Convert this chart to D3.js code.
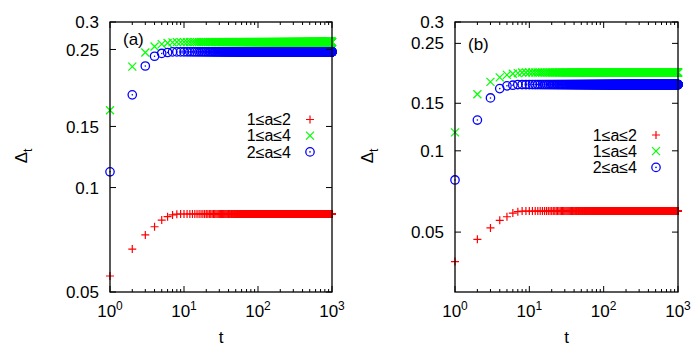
<!DOCTYPE html>
<meta charset="utf-8">
<style>
    body { margin: 0; background: #fff; }
    svg { font-family: "Liberation Sans", Arial, sans-serif; }
    .frame { fill: none; stroke: #000; stroke-width: 1.3; }
    .tick { stroke: #000; stroke-width: 1; }
</style>
<svg width="699" height="350"></svg>
<script src="https://d3js.org/d3.v7.min.js"></script>
<script>

    // values: the first steps, then the flat level up to t = 1000
    var tMax = 1000;

    var redA   = [0.0556, 0.0665, 0.0730, 0.0771, 0.0806, 0.0824, 0.0834, 0.0838];
    var greenA = [0.167, 0.223, 0.245, 0.255, 0.259, 0.261, 0.262];
    var blueA  = [0.111, 0.185, 0.224, 0.239, 0.2435, 0.245, 0.246];
    var plateauA = { red: 0.0839, green: 0.2625, blue: 0.246 };

    var redB   = [0.0389, 0.0470, 0.0518, 0.0553, 0.0570, 0.0588, 0.0595];
    var greenB = [0.117, 0.162, 0.180, 0.187, 0.191, 0.193, 0.194];
    var blueB  = [0.078, 0.130, 0.157, 0.170, 0.174, 0.175, 0.176];
    var plateauB = { red: 0.0598, green: 0.195, blue: 0.176 };

    var yTicks = [0.05, 0.1, 0.15, 0.25, 0.3];
    var xTicks = [1, 10, 100, 1000];
    var legendNames = ["1\u2264a\u22642", "1\u2264a\u22644", "2\u2264a\u22644"];
    var colors = ["#ff0000", "#00ff00", "#0000ff"];

    function series(early, flat) {
        var out = [];
        for (var t = 1; t <= tMax; t++) {
            out.push({ t: t, v: t <= early.length ? early[t - 1] : flat });
        }
        return out;
    }

    var svg = d3.select("svg");

    function marker(g, kind, color) {
        if (kind == 0) {
            g.append("path").attr("d", "M-4,0H4M0,-4V4")
                .attr("stroke", color).attr("stroke-width", 1.2).attr("fill", "none");
        } else if (kind == 1) {
            g.append("path").attr("d", "M-4,-4L4,4M-4,4L4,-4")
                .attr("stroke", color).attr("stroke-width", 1.2).attr("fill", "none");
        } else {
            g.append("circle").attr("r", 4.2)
                .attr("stroke", color).attr("stroke-width", 1.3).attr("fill", "none");
            g.append("circle").attr("r", 0.8).attr("fill", color);
        }
    }

    function drawPanel(p) {
        var x = d3.scaleLog().domain([1, tMax]).range([p.left, p.right]);
        var y = d3.scaleLog().domain(p.yDomain).range([p.bottom, p.top]);

        var g = svg.append("g");

        // data, red first so blue ends on top
        p.data.forEach(function(d, k) {
            g.append("g").selectAll("g")
                .data(d)
                .enter().append("g")
                .attr("transform", function(e) { return "translate(" + x(e.t) + "," + y(e.v) + ")"; })
                .each(function() { marker(d3.select(this), k, colors[k]); });
        });

        // frame
        g.append("rect").attr("class", "frame")
            .attr("x", p.left).attr("y", p.top)
            .attr("width", p.right - p.left).attr("height", p.bottom - p.top);

        // x ticks, major and minor, bottom and top
        var minor = [];
        [1, 10, 100].forEach(function(dec) {
            for (var m = 2; m <= 9; m++) minor.push(dec * m);
        });
        xTicks.forEach(function(t) {
            g.append("line").attr("class", "tick")
                .attr("x1", x(t)).attr("x2", x(t)).attr("y1", p.bottom).attr("y2", p.bottom - 6);
            g.append("line").attr("class", "tick")
                .attr("x1", x(t)).attr("x2", x(t)).attr("y1", p.top).attr("y2", p.top + 6);
            var lab = g.append("text")
                .attr("x", x(t)).attr("y", 317)
                .attr("text-anchor", "middle")
                .attr("font-size", 17);
            lab.append("tspan").text("10");
            lab.append("tspan").attr("dy", -7).attr("font-size", 12).text(Math.round(Math.log10(t)));
        });
        minor.forEach(function(t) {
            g.append("line").attr("class", "tick")
                .attr("x1", x(t)).attr("x2", x(t)).attr("y1", p.bottom).attr("y2", p.bottom - 3);
            g.append("line").attr("class", "tick")
                .attr("x1", x(t)).attr("x2", x(t)).attr("y1", p.top).attr("y2", p.top + 3);
        });

        // y ticks, left and right
        yTicks.forEach(function(v) {
            g.append("line").attr("class", "tick")
                .attr("x1", p.left).attr("x2", p.left + 6).attr("y1", y(v)).attr("y2", y(v));
            g.append("line").attr("class", "tick")
                .attr("x1", p.right).attr("x2", p.right - 6).attr("y1", y(v)).attr("y2", y(v));
            g.append("text")
                .attr("x", p.left - 11).attr("y", y(v)).attr("dy", "0.36em")
                .attr("text-anchor", "end").attr("font-size", 17)
                .text(v);
        });

        // axis titles
        g.append("text")
            .attr("x", (p.left + p.right) / 2).attr("y", 343)
            .attr("text-anchor", "middle").attr("font-size", 17)
            .text("t");
        var yl = g.append("text")
            .attr("transform", "translate(" + p.yLabelX + ",156) rotate(-90)")
            .attr("text-anchor", "middle").attr("font-size", 17);
        yl.append("tspan").text("\u0394");
        yl.append("tspan").attr("dy", 5).attr("font-size", 12).text("t");

        g.append("text")
            .attr("x", p.left + 13).attr("y", p.tagY)
            .attr("font-size", 17)
            .text(p.tag);

        // legend
        legendNames.forEach(function(name, k) {
            var ly = p.legendY + k * 16.2;
            g.append("text")
                .attr("x", p.legendX).attr("y", ly).attr("dy", "0.36em")
                .attr("text-anchor", "end").attr("font-size", 16)
                .text(name);
            var m = g.append("g").attr("transform", "translate(" + (p.legendX + 19) + "," + ly + ")");
            marker(m, k, colors[k]);
        });
    }

    drawPanel({
        left: 110, right: 332, top: 22, bottom: 292,
        yDomain: [0.05, 0.3],
        data: [series(redA, plateauA.red), series(greenA, plateauA.green), series(blueA, plateauA.blue)],
        tag: "(a)", tagY: 45,
        yLabelX: 27,
        legendX: 291, legendY: 119.5
    });

    drawPanel({
        left: 455, right: 678, top: 22, bottom: 292,
        yDomain: [0.03, 0.3],
        data: [series(redB, plateauB.red), series(greenB, plateauB.green), series(blueB, plateauB.blue)],
        tag: "(b)", tagY: 50,
        yLabelX: 373,
        legendX: 637, legendY: 135
    });

</script>
